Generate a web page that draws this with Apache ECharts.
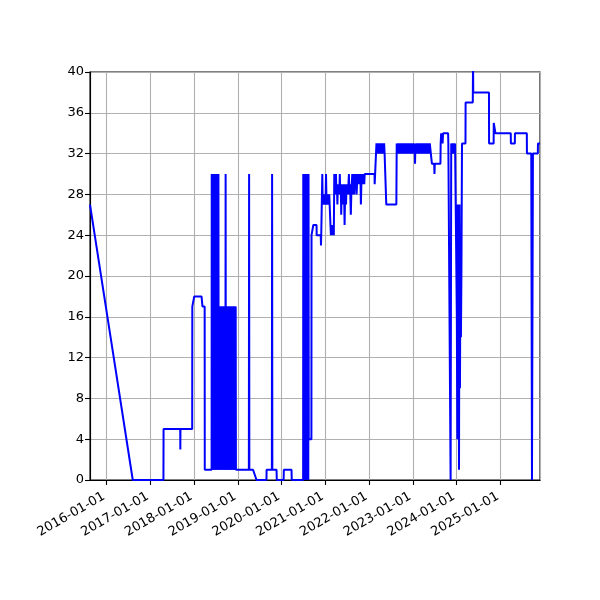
<!DOCTYPE html>
<html>
<head>
<meta charset="utf-8">
<script src="https://cdn.jsdelivr.net/npm/echarts@6/dist/echarts.min.js"></script>
<style>
html,body{margin:0;padding:0;background:#fff;}
#chart{width:600px;height:600px;}
</style>
</head>
<body>
<div id="chart"></div>
<script>
// ---- data: [date, value] ----
const seg2015_2018 = [
 ['2015-08-16',27],['2016-08-07',0],['2017-04-20',0],['2017-04-21',5],['2017-09-07',5],['2017-09-08',3],['2017-09-09',5],
 ['2017-12-16',5],['2017-12-17',17],['2017-12-29',17],['2018-01-02',18],['2018-03-04',18],['2018-03-12',17],['2018-03-30',17],
 ['2018-03-31',1],['2018-05-27',1]
];
const seg2018burst = [
 ['2018-05-28',30],['2018-05-30',1],['2018-06-01',30],['2018-06-03',1],['2018-06-05',30],['2018-06-07',1],['2018-06-09',30],
 ['2018-06-11',1],['2018-06-13',30],['2018-06-15',1],['2018-06-17',30],['2018-06-19',1],['2018-06-21',30],['2018-06-23',1],
 ['2018-06-25',30],['2018-06-27',1],['2018-06-29',30],['2018-07-01',1],['2018-07-03',30],['2018-07-05',1],['2018-07-07',30],
 ['2018-07-09',1],['2018-07-11',30],['2018-07-13',1],['2018-07-15',30],['2018-07-17',1],['2018-07-19',30],['2018-07-21',1],
 ['2018-07-23',30],['2018-07-25',1],
 ['2018-07-27',17],['2018-07-29',1],['2018-07-31',17],['2018-08-02',1],['2018-08-04',17],['2018-08-06',1],['2018-08-08',17],
 ['2018-08-10',1],['2018-08-12',17],['2018-08-14',1],['2018-08-16',17],['2018-08-18',1],['2018-08-20',17],['2018-08-22',1],
 ['2018-08-24',17],['2018-08-26',1],['2018-08-28',17],['2018-08-30',1],['2018-09-01',17],['2018-09-03',1],['2018-09-05',17],
 ['2018-09-07',1],['2018-09-09',17],['2018-09-11',1],['2018-09-13',17],['2018-09-15',1],['2018-09-17',17],['2018-09-19',1],
 ['2018-09-21',30],['2018-09-23',1],['2018-09-25',17],['2018-09-27',1],['2018-09-29',17],['2018-10-01',1],['2018-10-03',17],
 ['2018-10-05',1],['2018-10-07',17],['2018-10-09',1],['2018-10-11',17],['2018-10-13',1],['2018-10-15',17],['2018-10-17',1],
 ['2018-10-19',17],['2018-10-21',1],['2018-10-23',17],['2018-10-25',1],['2018-10-27',17],['2018-10-29',1],['2018-10-31',17],
 ['2018-11-02',1],['2018-11-04',17],['2018-11-06',1],['2018-11-08',17],['2018-11-10',1],['2018-11-12',17],['2018-11-14',1],
 ['2018-11-16',17],['2018-11-18',1],['2018-11-20',17],['2018-11-22',1],['2018-11-24',17],['2018-11-26',1],['2018-11-28',17],
 ['2018-11-30',1],['2018-12-02',17],['2018-12-04',1],['2018-12-06',17],['2018-12-08',1],['2018-12-10',17],['2018-12-12',1],
 ['2018-12-14',17],['2018-12-16',1]
];
const seg2019_2020 = [
 ['2019-04-03',1],['2019-04-05',30],['2019-04-07',1],['2019-05-08',1],['2019-06-06',0],['2019-08-28',0],['2019-08-29',1],
 ['2019-10-12',1],['2019-10-14',30],['2019-10-16',1],['2019-11-20',1],['2019-11-22',0],['2020-01-18',0],['2020-01-20',1],
 ['2020-03-24',1],['2020-03-26',0],['2020-06-29',0],
 ['2020-06-30',30],['2020-07-02',0],['2020-07-04',30],['2020-07-06',0],['2020-07-08',30],['2020-07-10',0],['2020-07-12',30],
 ['2020-07-14',0],['2020-07-16',30],['2020-07-18',0],['2020-07-20',30],['2020-07-22',0],['2020-07-24',30],['2020-07-26',0],
 ['2020-07-28',30],['2020-07-30',0],['2020-08-01',30],['2020-08-03',0],['2020-08-05',30],['2020-08-07',0],['2020-08-09',30],
 ['2020-08-11',0],['2020-08-13',30],['2020-08-15',4],['2020-09-06',4],['2020-09-07',24],['2020-09-21',24],['2020-09-22',25],
 ['2020-10-19',25],['2020-10-20',24],['2020-11-23',24],['2020-11-25',23],['2020-11-27',24],['2020-12-04',24]
];
const seg2021 = [
 ['2020-12-06',30],['2020-12-09',27],['2020-12-13',28],['2020-12-17',27],['2020-12-21',28],['2020-12-25',27],['2020-12-29',28],
 ['2021-01-02',27],['2021-01-06',30],['2021-01-09',28],['2021-01-13',27],['2021-01-17',28],['2021-01-21',27],['2021-01-25',28],
 ['2021-01-29',27],['2021-02-02',28],['2021-02-08',28],['2021-02-12',25],['2021-02-16',24],['2021-02-20',25],['2021-02-24',24],
 ['2021-02-28',25],['2021-03-04',24],['2021-03-08',25],['2021-03-12',24],['2021-03-16',30],['2021-03-19',28],['2021-03-22',29],
 ['2021-03-26',28],['2021-03-30',30],['2021-04-03',28],['2021-04-07',29],['2021-04-11',27],['2021-04-15',29],['2021-04-19',28],
 ['2021-04-23',29],['2021-04-27',28],['2021-05-01',30],['2021-05-05',28],['2021-05-09',29],['2021-05-13',26],['2021-05-17',29],
 ['2021-05-21',28],['2021-05-25',29],['2021-05-29',27],['2021-06-02',29],['2021-06-06',28],['2021-06-10',25],['2021-06-14',28],
 ['2021-06-18',29],['2021-06-22',27],['2021-06-26',29],['2021-06-30',28],['2021-07-04',29],['2021-07-08',28],['2021-07-12',29],
 ['2021-07-16',30],['2021-07-20',28],['2021-07-24',29],['2021-07-28',28],['2021-08-01',26],['2021-08-05',28],['2021-08-09',29],
 ['2021-08-13',30],['2021-08-17',28],['2021-08-21',29],['2021-08-25',30],['2021-08-29',28],['2021-09-02',29],['2021-09-06',30],
 ['2021-09-10',29],['2021-09-14',30],['2021-09-18',28],['2021-09-22',29],['2021-09-26',30],['2021-09-30',29],['2021-10-04',30],
 ['2021-10-08',29],['2021-10-12',30],['2021-10-16',29],['2021-10-20',30],['2021-10-24',27],['2021-10-28',29],['2021-11-01',30],
 ['2021-11-05',29],['2021-11-09',30],['2021-11-13',29],['2021-11-17',30],['2021-11-21',29],['2021-11-25',30],['2022-02-15',30],
 ['2022-02-16',29],['2022-03-01',29]
];
const seg2022_2023 = [
 ['2022-03-03',33],['2022-03-07',32],['2022-03-11',33],['2022-03-15',32],['2022-03-19',33],['2022-03-23',32],['2022-03-27',33],
 ['2022-03-31',32],['2022-04-04',33],['2022-04-08',32],['2022-04-12',33],['2022-04-16',32],['2022-04-20',33],['2022-04-24',32],
 ['2022-04-28',33],['2022-05-02',32],['2022-05-06',33],['2022-05-10',32],['2022-05-24',27],['2022-08-16',27],['2022-08-19',33],
 ['2022-08-24',32],['2022-08-29',33],['2022-09-03',32],['2022-09-08',33],['2022-09-13',32],['2022-09-18',33],['2022-09-23',32],
 ['2022-09-28',33],['2022-10-03',32],['2022-10-08',33],['2022-10-13',32],['2022-10-18',33],['2022-10-23',32],['2022-10-28',33],
 ['2022-11-02',32],['2022-11-07',33],['2022-11-12',32],['2022-11-17',33],['2022-11-22',32],['2022-11-27',33],['2022-12-02',32],
 ['2022-12-07',33],['2022-12-12',32],['2022-12-17',33],['2022-12-22',32],['2022-12-27',33],['2023-01-01',32],['2023-01-06',33],
 ['2023-01-11',32],['2023-01-16',33],['2023-01-19',31],['2023-01-22',33],['2023-01-27',32],['2023-02-01',33],['2023-02-06',32],
 ['2023-02-11',33],['2023-02-16',32],['2023-02-21',33],['2023-02-26',32],['2023-03-03',33],['2023-03-08',32],['2023-03-13',33],
 ['2023-03-18',32],['2023-03-23',33],['2023-03-28',32],['2023-04-02',33],['2023-04-07',32],['2023-04-12',33],['2023-04-17',32],
 ['2023-04-22',33],['2023-04-27',32],['2023-05-02',33],['2023-05-07',32],['2023-05-12',33],['2023-05-17',32],['2023-05-22',33],
 ['2023-06-07',33],['2023-06-09',31],['2023-06-28',31],['2023-06-30',30],['2023-07-03',31],['2023-08-19',31],['2023-08-21',33],
 ['2023-08-25',34],['2023-08-29',33],['2023-09-02',34],['2023-09-06',33],['2023-09-10',34],['2023-10-22',34],['2023-10-24',33],
 ['2023-11-07',33],['2023-11-12',0],['2023-11-17',33],['2023-11-21',32],['2023-11-25',33],['2023-11-29',32],['2023-12-03',33],
 ['2023-12-07',32],['2023-12-11',33],['2023-12-15',32],['2023-12-19',33],['2024-01-01',33]
];
const seg2024_2025 = [
 ['2024-01-03',16],['2024-01-07',4],['2024-01-10',27],['2024-01-13',12],['2024-01-16',26],['2024-01-21',1],['2024-01-25',27],
 ['2024-01-29',9],['2024-02-02',22],['2024-02-06',14],['2024-02-10',20],['2024-02-15',33],['2024-03-15',33],['2024-03-16',37],
 ['2024-05-15',37],['2024-05-17',41],['2024-05-19',38],['2024-09-27',38],['2024-09-28',33],['2024-11-05',33],['2024-11-06',35],
 ['2024-11-19',35],['2024-11-20',34],['2025-03-28',34],['2025-03-29',33],['2025-05-01',33],['2025-05-02',34],['2025-08-09',34],
 ['2025-08-10',32],['2025-09-15',32],['2025-09-21',0],['2025-09-29',32],['2025-11-09',32],['2025-11-10',33],['2025-11-27',33]
];
// envelopes of the densest oscillation bursts: [start, end, low, high]
const burstBlocks = [
 ['2018-05-28', '2018-07-24', 1, 30],
 ['2018-07-26', '2018-12-15', 1, 17],
 ['2020-06-30', '2020-08-13', 0, 30]
];
const xMin = '2015-08-16';
const xMax = '2025-11-27';
const yTicks = [0, 4, 8, 12, 16, 20, 24, 28, 32, 36, 40];

const allData = [].concat(seg2015_2018, seg2018burst, seg2019_2020, seg2021, seg2022_2023, seg2024_2025);

function pad(n){ return (n < 10 ? '0' : '') + n; }
function fmtDate(v){
  const d = new Date(v);
  return d.getFullYear() + '-' + pad(d.getMonth() + 1) + '-' + pad(d.getDate());
}

const chart = echarts.init(document.getElementById('chart'), null, {renderer: 'canvas'});
const font = 'DejaVu Sans';
chart.setOption({
  animation: false,
  backgroundColor: '#fff',
  grid: {left: 90, right: 60, top: 72, bottom: 120, show: true, borderColor: '#000', borderWidth: 1.1},
  xAxis: {
    type: 'time',
    min: xMin,
    max: xMax,
    splitNumber: 10,
    minInterval: 365 * 864e5,
    maxInterval: 366 * 864e5,
    axisLine: {show: true, onZero: false, lineStyle: {color: '#000', width: 1.1}},
    axisTick: {show: true, inside: false, length: 5, lineStyle: {color: '#000', width: 1.1}},
    axisLabel: {
      rotate: 30, color: '#000', fontFamily: font, fontSize: 13, margin: 14, padding: [0, 3, 0, 0],
      showMinLabel: false, showMaxLabel: false, hideOverlap: false,
      formatter: function (v) { return fmtDate(v); }
    },
    splitLine: {show: true, lineStyle: {color: '#b0b0b0', width: 1.1}}
  },
  yAxis: {
    type: 'value',
    min: yTicks[0],
    max: yTicks[yTicks.length - 1],
    interval: 4,
    axisLine: {show: true, lineStyle: {color: '#000', width: 1.1}},
    axisTick: {show: true, inside: false, length: 5, lineStyle: {color: '#000', width: 1.1}},
    axisLabel: {color: '#000', fontFamily: font, fontSize: 13, margin: 6},
    splitLine: {show: true, lineStyle: {color: '#b0b0b0', width: 1.1}}
  },
  series: [{
    type: 'line',
    data: allData,
    symbol: 'none',
    showSymbol: false,
    clip: true,
    lineStyle: {color: '#0000ff', width: 2},
    itemStyle: {color: '#0000ff'},
    emphasis: {disabled: true},
    markArea: {
      silent: true,
      label: {show: false},
      itemStyle: {color: '#0000ff', opacity: 1, borderWidth: 0},
      emphasis: {disabled: true},
      data: burstBlocks.map(function (b) {
        return [{xAxis: b[0], yAxis: b[2]}, {xAxis: b[1], yAxis: b[3]}];
      })
    }
  }]
});
</script>
</body>
</html>
